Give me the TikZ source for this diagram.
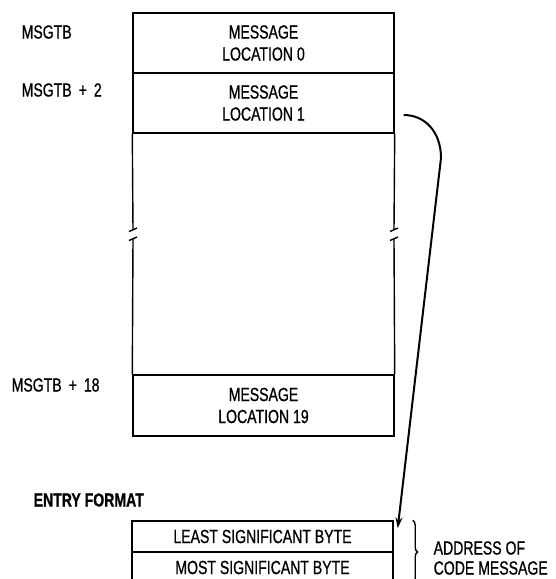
\documentclass[tikz,border=0pt]{standalone}
\usepackage{fontspec}
\setmainfont{Liberation Sans}[FakeStretch=0.74, FakeBold=0.8]
\usetikzlibrary{arrows.meta,decorations.pathreplacing}

\begin{document}
\begin{tikzpicture}[x=1pt,y=1pt, line width=1.4pt,
  every node/.style={font=\fontsize{19}{22}\selectfont, inner sep=0pt},
  cell/.style={draw, minimum width=261pt, align=center}]
  \clip (0,0) rectangle (556,-579);
  % message table
  \node[cell, minimum height=60pt] (loc0) at (263.5,-43) {MESSAGE\\LOCATION 0};
  \node[cell, minimum height=60pt] (loc1) at (263.5,-103) {MESSAGE\\LOCATION 1};
  \node[cell, minimum height=61pt] (loc19) at (263.5,-405.5) {MESSAGE\\LOCATION 19};
  % broken sides
  \draw (loc1.south west) -- (133,-230);
  \draw (133,-239) -- (loc19.north west);
  \draw (loc1.south east) -- (394,-230);
  \draw (394,-239) -- (loc19.north east);
  \foreach \sx in {133,394} {
    \draw (\sx-4,-231.5) -- (\sx+4,-228);
    \draw (\sx-4,-240.5) -- (\sx+4,-237);
  }
  \node[anchor=west] (adr0) at (21,-32) {MSGTB};
  \node[anchor=west] (adr1) at (21,-90) {MSGTB\hspace{7pt}+\hspace{7pt}2};
  \node[anchor=west] (adr18) at (11,-385) {MSGTB\hspace{7pt}+\hspace{7pt}18};
  % entry format
  \node[anchor=west, font=\fontsize{19}{22}\selectfont\bfseries] (entry) at (33,-500) {ENTRY FORMAT};
  \node[cell, minimum height=31pt] (lsb) at (262.5,-536.5) {LEAST SIGNIFICANT BYTE};
  \node[cell, minimum height=31pt] (msb) at (262.5,-567.5) {MOST SIGNIFICANT BYTE};
  \coordinate (src) at ([xshift=9pt,yshift=-12pt]loc1.east);
  \draw[line width=2pt, -{Stealth[length=11pt,width=7pt]}] (src) .. controls (425,-115) and (441,-132) .. (441,-158) -- ([xshift=4pt,yshift=-8pt]lsb.north east);
  \coordinate (bracetop) at ([xshift=19pt]lsb.north east);
  \coordinate (bracebot) at ([xshift=19pt]msb.south east);
  \draw[decorate, decoration={brace, amplitude=5pt}] (bracetop) -- (bracebot);
  \node[anchor=west, align=left, font=\fontsize{19}{20}\selectfont] (code) at (433,-558) {ADDRESS OF\\CODE MESSAGE};
\end{tikzpicture}
\end{document}
